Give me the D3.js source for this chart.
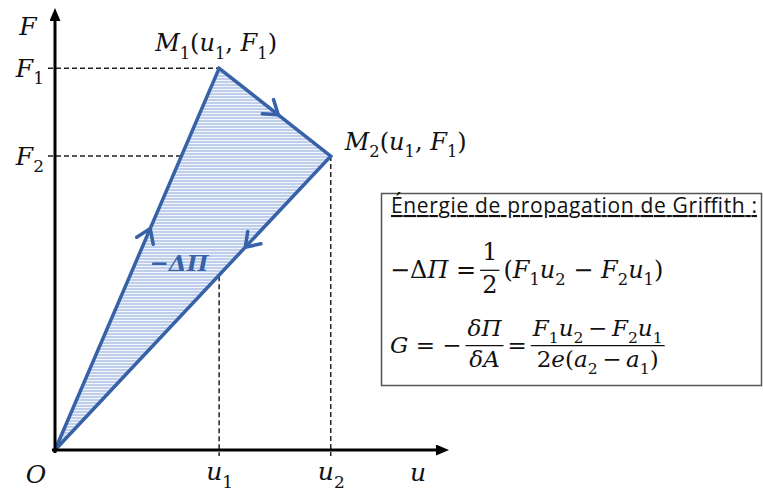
<!DOCTYPE html>
<html>
<head>
<meta charset="UTF-8">
<title></title>
<script src="https://cdn.jsdelivr.net/npm/d3@7"></script>
<style>
    body{margin:0;background:#fff;}
</style>
</head>
<body>
<div id="chart"></div>
<script>
    // points of the cycle O -> M1 -> M2 -> O (arbitrary units)
    var pointNames = ['O', 'M_1', 'M_2'];
    var uValues = [0, 1, 1.68];
    var fValues = [0, 1, 0.77];
    var uTickLabels = ['u_1', 'u_2'];
    var fTickLabels = ['F_1', 'F_2'];
    var pointLabels = ['M_1(u_1, F_1)', 'M_2(u_1, F_1)'];
    var arrowPos = [0.58, 0.53, 0.31];   // where the direction arrows sit on each edge
    var boxTitle = 'Énergie de propagation de Griffith :';

    var W = 763, H = 491;
    var blue = '#3762a7';
    var mathFont = '"DejaVu Serif", serif';

    var svg = d3.select('#chart').append('svg')
            .attr('width', W)
            .attr('height', H);

    var x = d3.scaleLinear().domain([0, 2.37]).range([55, 444]);
    var y = d3.scaleLinear().domain([0, 1.145]).range([450, 13]);

    var defs = svg.append('defs');
    defs.append('marker')
            .attr('id', 'axhead')
            .attr('viewBox', '0 0 13 11')
            .attr('markerUnits', 'userSpaceOnUse')
            .attr('markerWidth', 13)
            .attr('markerHeight', 11)
            .attr('refX', 8)
            .attr('refY', 5.5)
            .attr('orient', 'auto')
            .append('path')
            .attr('d', 'M0,0L13,5.5L0,11z')
            .attr('fill', '#000');
    var pat = defs.append('pattern')
            .attr('id', 'hatch')
            .attr('patternUnits', 'userSpaceOnUse')
            .attr('width', 8)
            .attr('height', 3);
    pat.append('rect').attr('width', 8).attr('height', 3).attr('fill', '#f2f6fc');
    pat.append('line')
            .attr('x1', 0).attr('x2', 8)
            .attr('y1', 1).attr('y2', 1)
            .attr('stroke', '#aabfe4')
            .attr('stroke-width', 1.4);

    // write a string with "_" subscripts, letters in italic
    function mathText(txt, str, size) {
        var sub = size * 0.68, shift = size * 0.3, inSub = false;
        var re = /_(.)|(.)/g, m;
        while ((m = re.exec(str)) !== null) {
            var c = m[1] || m[2];
            var isSub = !!m[1];
            var ts = txt.append('tspan').text(c);
            if (/[A-Za-zΠδ]/.test(c)) ts.attr('font-style', 'italic');
            if (isSub) {
                ts.attr('font-size', sub);
                if (!inSub) ts.attr('dy', shift);
                inSub = true;
            } else {
                ts.attr('font-size', size);
                if (inSub) ts.attr('dy', -shift);
                inSub = false;
            }
        }
        return txt;
    }

    function label(g, px, py, str, size, anchor) {
        var t = g.append('text')
                .attr('font-family', mathFont)
                .attr('x', px)
                .attr('y', py)
                .attr('text-anchor', anchor || 'start')
                .attr('fill', '#111');
        return mathText(t, str, size);
    }

    // dashed guide lines
    var guides = svg.append('g')
            .attr('stroke', '#222')
            .attr('stroke-width', 1.5)
            .attr('stroke-dasharray', '5,3');
    for (var i = 1; i < uValues.length; i++) {
        guides.append('line')
                .attr('x1', x(0) - 7).attr('x2', x(uValues[i]))
                .attr('y1', y(fValues[i])).attr('y2', y(fValues[i]));
        guides.append('line')
                .attr('x1', x(uValues[i])).attr('x2', x(uValues[i]))
                .attr('y1', y(fValues[i])).attr('y2', y(0) + 6);
    }

    // hatched triangle
    var pts = uValues.map(function(d, i) { return [x(d), y(fValues[i])]; });
    svg.append('polygon')
            .attr('points', pts.map(function(p) { return p.join(','); }).join(' '))
            .attr('fill', 'url(#hatch)')
            .attr('stroke', blue)
            .attr('stroke-width', 3.5)
            .attr('stroke-linejoin', 'miter');

    // direction chevrons
    pts.forEach(function(p, i) {
        var q = pts[(i + 1) % pts.length];
        var t = arrowPos[i];
        var tx = p[0] + (q[0] - p[0]) * t, ty = p[1] + (q[1] - p[1]) * t;
        var ang = Math.atan2(q[1] - p[1], q[0] - p[0]);
        var L = 16, a = 0.6;
        var d = 'M' + (tx - L * Math.cos(ang - a)) + ',' + (ty - L * Math.sin(ang - a)) +
                'L' + tx + ',' + ty +
                'L' + (tx - L * Math.cos(ang + a)) + ',' + (ty - L * Math.sin(ang + a));
        svg.append('path')
                .attr('d', d)
                .attr('fill', 'none')
                .attr('stroke', blue)
                .attr('stroke-width', 3.5)
                .attr('stroke-linecap', 'round')
                .attr('stroke-linejoin', 'miter');
    });

    // axes
    var xAxis = svg.append('g')
            .attr('transform', 'translate(0,' + y(0) + ')')
            .call(d3.axisBottom(x).tickValues(uValues.slice(1)).tickSize(0).tickSizeOuter(0).tickFormat(''));
    var yAxis = svg.append('g')
            .attr('transform', 'translate(' + x(0) + ',0)')
            .call(d3.axisLeft(y).tickValues(fValues.slice(1)).tickSize(0).tickSizeOuter(0).tickFormat(''));
    [xAxis, yAxis].forEach(function(ax) {
        ax.select('.domain')
                .attr('stroke', '#000')
                .attr('stroke-width', 3)
                .attr('marker-end', 'url(#axhead)');
    });
    xAxis.select('.domain').attr('d', 'M' + (x(0) - 3) + ',0H' + x.range()[1]);
    yAxis.select('.domain').attr('d', 'M0,' + (y(0) + 3) + 'V' + y.range()[1]);

    xAxis.selectAll('.tick').each(function(d, i) {
        label(d3.select(this), 0, 30, uTickLabels[i], 25, 'middle');
    });
    yAxis.selectAll('.tick').each(function(d, i) {
        label(d3.select(this), -11, 8, fTickLabels[i], 25, 'end');
    });
    label(svg, 36, y(0) + 33, 'O', 25, 'middle');
    label(svg, 418, y(0) + 31, 'u', 25, 'middle');
    label(svg, 28, 35, 'F', 25, 'middle');

    // point labels
    label(svg, x(uValues[1]) - 64, y(fValues[1]) - 17, pointLabels[0], 24, 'start');
    label(svg, x(uValues[2]) + 14, y(fValues[2]) - 6, pointLabels[1], 24, 'start');

    // area label
    svg.append('text')
            .attr('font-family', mathFont)
            .attr('x', 179)
            .attr('y', 271)
            .attr('text-anchor', 'middle')
            .attr('fill', blue)
            .attr('font-size', 23)
            .attr('font-weight', 'bold')
            .attr('font-style', 'italic')
            .text('−ΔΠ');

    // formula box
    var box = svg.append('g');
    box.append('rect')
            .attr('x', 381.5).attr('y', 193.5)
            .attr('width', 380).attr('height', 192)
            .attr('fill', '#fff')
            .attr('stroke', '#555')
            .attr('stroke-width', 1.5);
    box.append('text')
            .attr('x', 391)
            .attr('y', 213)
            .attr('font-family', '"Open Sans", sans-serif')
            .attr('font-size', 21)
            .attr('textLength', 366)
            .attr('lengthAdjust', 'spacing')
            .attr('text-decoration', 'underline')
            .attr('fill', '#111')
            .text(boxTitle);

    function row(g, x0, base, items, size) {
        var cx = x0;
        var axisY = base - size * 0.32;
        items.forEach(function(it) {
            if (typeof it === 'string') {
                var t = label(g, cx, base, it, size, 'start');
                cx += t.node().getComputedTextLength();
            } else {
                var n = label(g, 0, axisY - 10, it[0], size, 'middle');
                var dd = label(g, 0, axisY + size * 0.95, it[1], size, 'middle');
                var w = Math.max(n.node().getComputedTextLength(), dd.node().getComputedTextLength()) + 4;
                n.attr('x', cx + w / 2 + 4);
                dd.attr('x', cx + w / 2 + 4);
                g.append('line')
                        .attr('x1', cx + 4).attr('x2', cx + w + 4)
                        .attr('y1', axisY).attr('y2', axisY)
                        .attr('stroke', '#111')
                        .attr('stroke-width', 1.3);
                cx += w + 8;
            }
        });
    }
    row(box, 390, 278, ['−ΔΠ = ', ['1', '2'], '(F_1u_2 − F_2u_1)'], 24);
    row(box, 390, 353, ['G = − ', ['δΠ', 'δA'], '= ', ['F_1u_2\u2009−\u2009F_2u_1', '2e(a_2\u2009−\u2009a_1)']], 23);
</script>
</body>
</html>
